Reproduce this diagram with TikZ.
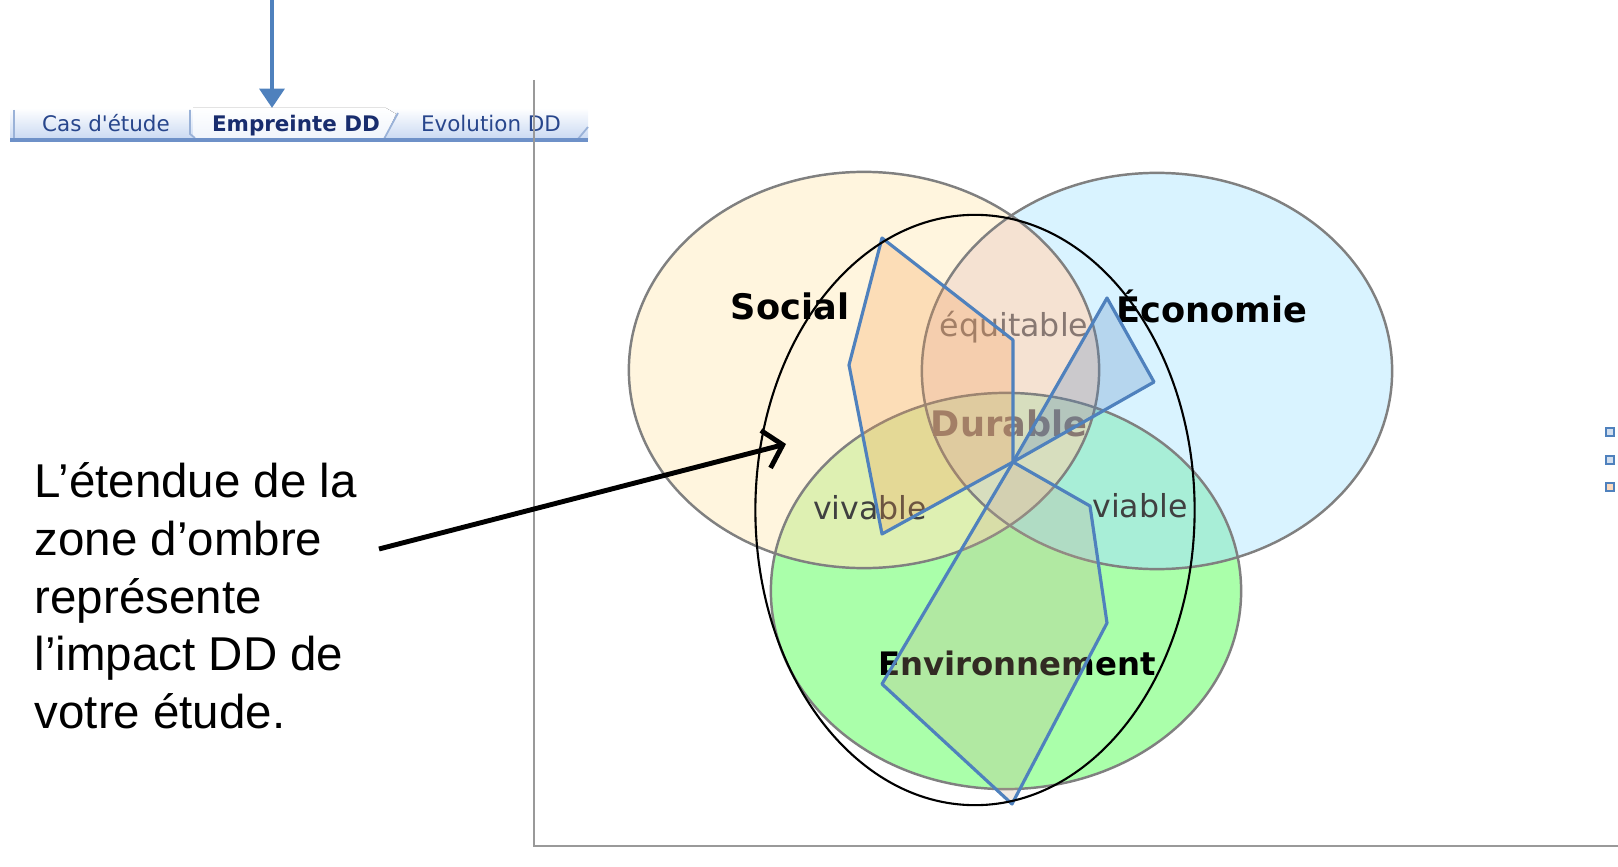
\documentclass[tikz,border=0pt]{standalone}
\usepackage{fontspec}
\setmainfont{Liberation Sans}
\newfontfamily\vennfont{DejaVu Sans}
\usetikzlibrary{arrows.meta}

\definecolor{socialfill}{RGB}{255,245,222}
\definecolor{ecofill}{RGB}{217,243,255}
\definecolor{envfill}{RGB}{170,255,170}
\definecolor{sefill}{RGB}{245,226,210}
\definecolor{svfill}{RGB}{222,240,178}
\definecolor{evfill}{RGB}{168,238,215}
\definecolor{allfill}{RGB}{215,222,190}
\definecolor{radarblue}{RGB}{79,129,189}
\definecolor{petalorange}{RGB}{247,150,70}
\definecolor{petalbrown}{RGB}{200,170,140}
\definecolor{tabtext}{RGB}{40,70,140}
\definecolor{tabdark}{RGB}{25,45,110}
\definecolor{tabline}{RGB}{110,145,200}
\definecolor{tabfill}{RGB}{200,216,242}
\definecolor{labelgray}{RGB}{135,120,114}

% the three circles of the footprint
\newcommand{\socialpath}{(864,370) ellipse [x radius=2.35cm, y radius=1.98cm]}
\newcommand{\ecopath}{(1157,371) ellipse [x radius=2.35cm, y radius=1.98cm]}
\newcommand{\envpath}{(1006,591) ellipse [x radius=2.35cm, y radius=1.98cm]}

\tikzset{
  venn/.style={draw=black!50, line width=0.7pt},
  petal/.style={draw=radarblue, line width=0.9pt, line join=round},
  tab/.style={font=\vennfont\fontsize{6.1}{7}\selectfont, text=tabtext, inner sep=0pt, anchor=base},
  bigword/.style={font=\vennfont\bfseries\fontsize{10}{12}\selectfont},
  smallword/.style={font=\vennfont\fontsize{9}{11}\selectfont, text=black!75},
}

\begin{document}
\begin{tikzpicture}[x=0.01cm, y=-0.01cm]
\useasboundingbox (0,0) rectangle (1618,867);

% sheet tabs
\fill[top color=white, bottom color=tabfill] (10,108) rectangle (588,140);
\fill[top color=white, bottom color=white!70!tabfill] (193,108) -- (386,108) -- (396,114) -- (384,140) -- (193,140) -- cycle;
\draw[tabline!70, line width=0.5pt] (14,110) -- (14,138);
\draw[tabline!70, line width=0.5pt] (190,110) -- (190,134) -- (195,138);
\draw[tabline!70, line width=0.5pt] (384,139) -- (398,113);
\draw[tabline!70, line width=0.5pt] (578,139) -- (588,127);
\draw[tabline, line width=0.9pt] (10,140) -- (588,140);
\node[tab] (tabcas) at (106,132) {Cas d'étude};
\node[tab, font=\vennfont\bfseries\fontsize{6.1}{7}\selectfont, text=tabdark] (tabempreinte) at (296,132) {Empreinte DD};
\node[tab] (tabevolution) at (491,132) {Evolution DD};

\coordinate (pointer) at (272,0);
\coordinate (pointertip) at (272,108);
\draw[radarblue, line width=1.3pt, -{Triangle[length=5.5pt,width=7pt]}] (pointer) -- (pointertip);

% chart axes
\draw[black!40, line width=0.6pt] (534,80) -- (534,846) -- (1618,846);

% circles and their overlaps
\fill[socialfill] \socialpath;
\fill[ecofill] \ecopath;
\fill[envfill] \envpath;
\begin{scope}
  \clip \socialpath;
  \fill[sefill] \ecopath;
  \fill[svfill] \envpath;
\end{scope}
\begin{scope}
  \clip \ecopath;
  \fill[evfill] \envpath;
\end{scope}
\begin{scope}
  \clip \socialpath;
  \clip \ecopath;
  \fill[allfill] \envpath;
\end{scope}
\draw[venn] \socialpath;
\draw[venn] \ecopath;
\draw[venn] \envpath;

\node[bigword] (social) at (790,306) {Social};
\node[bigword] (economie) at (1212,306) {Économie};
\node[bigword, font=\vennfont\bfseries\fontsize{9.2}{11}\selectfont] (environnement) at (1017,663) {Environnement};
\node[smallword, text=labelgray] (equitable) at (1014,327) {équitable};
\node[bigword, text=labelgray] (durable) at (1009,423) {Durable};
\node[smallword] (vivable) at (870,508) {vivable};
\node[smallword] (viable) at (1140,506) {viable};

% impact petals
\coordinate (hub) at (1013,462);
\filldraw[petal, fill=petalorange, fill opacity=0.25] (hub) -- (1013,340) -- (882,238) -- (849,365) -- (882,534) -- cycle;
\filldraw[petal, fill=radarblue, fill opacity=0.25] (hub) -- (1107,298) -- (1154,382) -- cycle;
\filldraw[petal, fill=petalbrown, fill opacity=0.25] (hub) -- (1090,506) -- (1107,623) -- (1012,804) -- (882,684) -- cycle;

% shadow zone
\draw[black, line width=0.6pt] (975,510) ellipse [x radius=2.195cm, y radius=2.95cm];

% legend markers
\foreach \y/\c in {432/radarblue!25, 460/radarblue!25, 487/petalorange!35}
  \draw[radarblue, line width=0.6pt, fill=\c] (1606,\y-4) rectangle (1614,\y+4);

\node[anchor=west, align=left, inner sep=0pt, font=\fontsize{13.5}{16.4}\selectfont] (note) at (34,596)
  {L’étendue de la\\zone d’ombre\\représente\\l’impact DD de\\votre étude.};
\coordinate (tail) at (379,549);
\coordinate (shadow) at (786,444);
\draw[line width=1.4pt, -{Straight Barb[length=5pt,width=11pt]}] (tail) -- (shadow);
\end{tikzpicture}
\end{document}
